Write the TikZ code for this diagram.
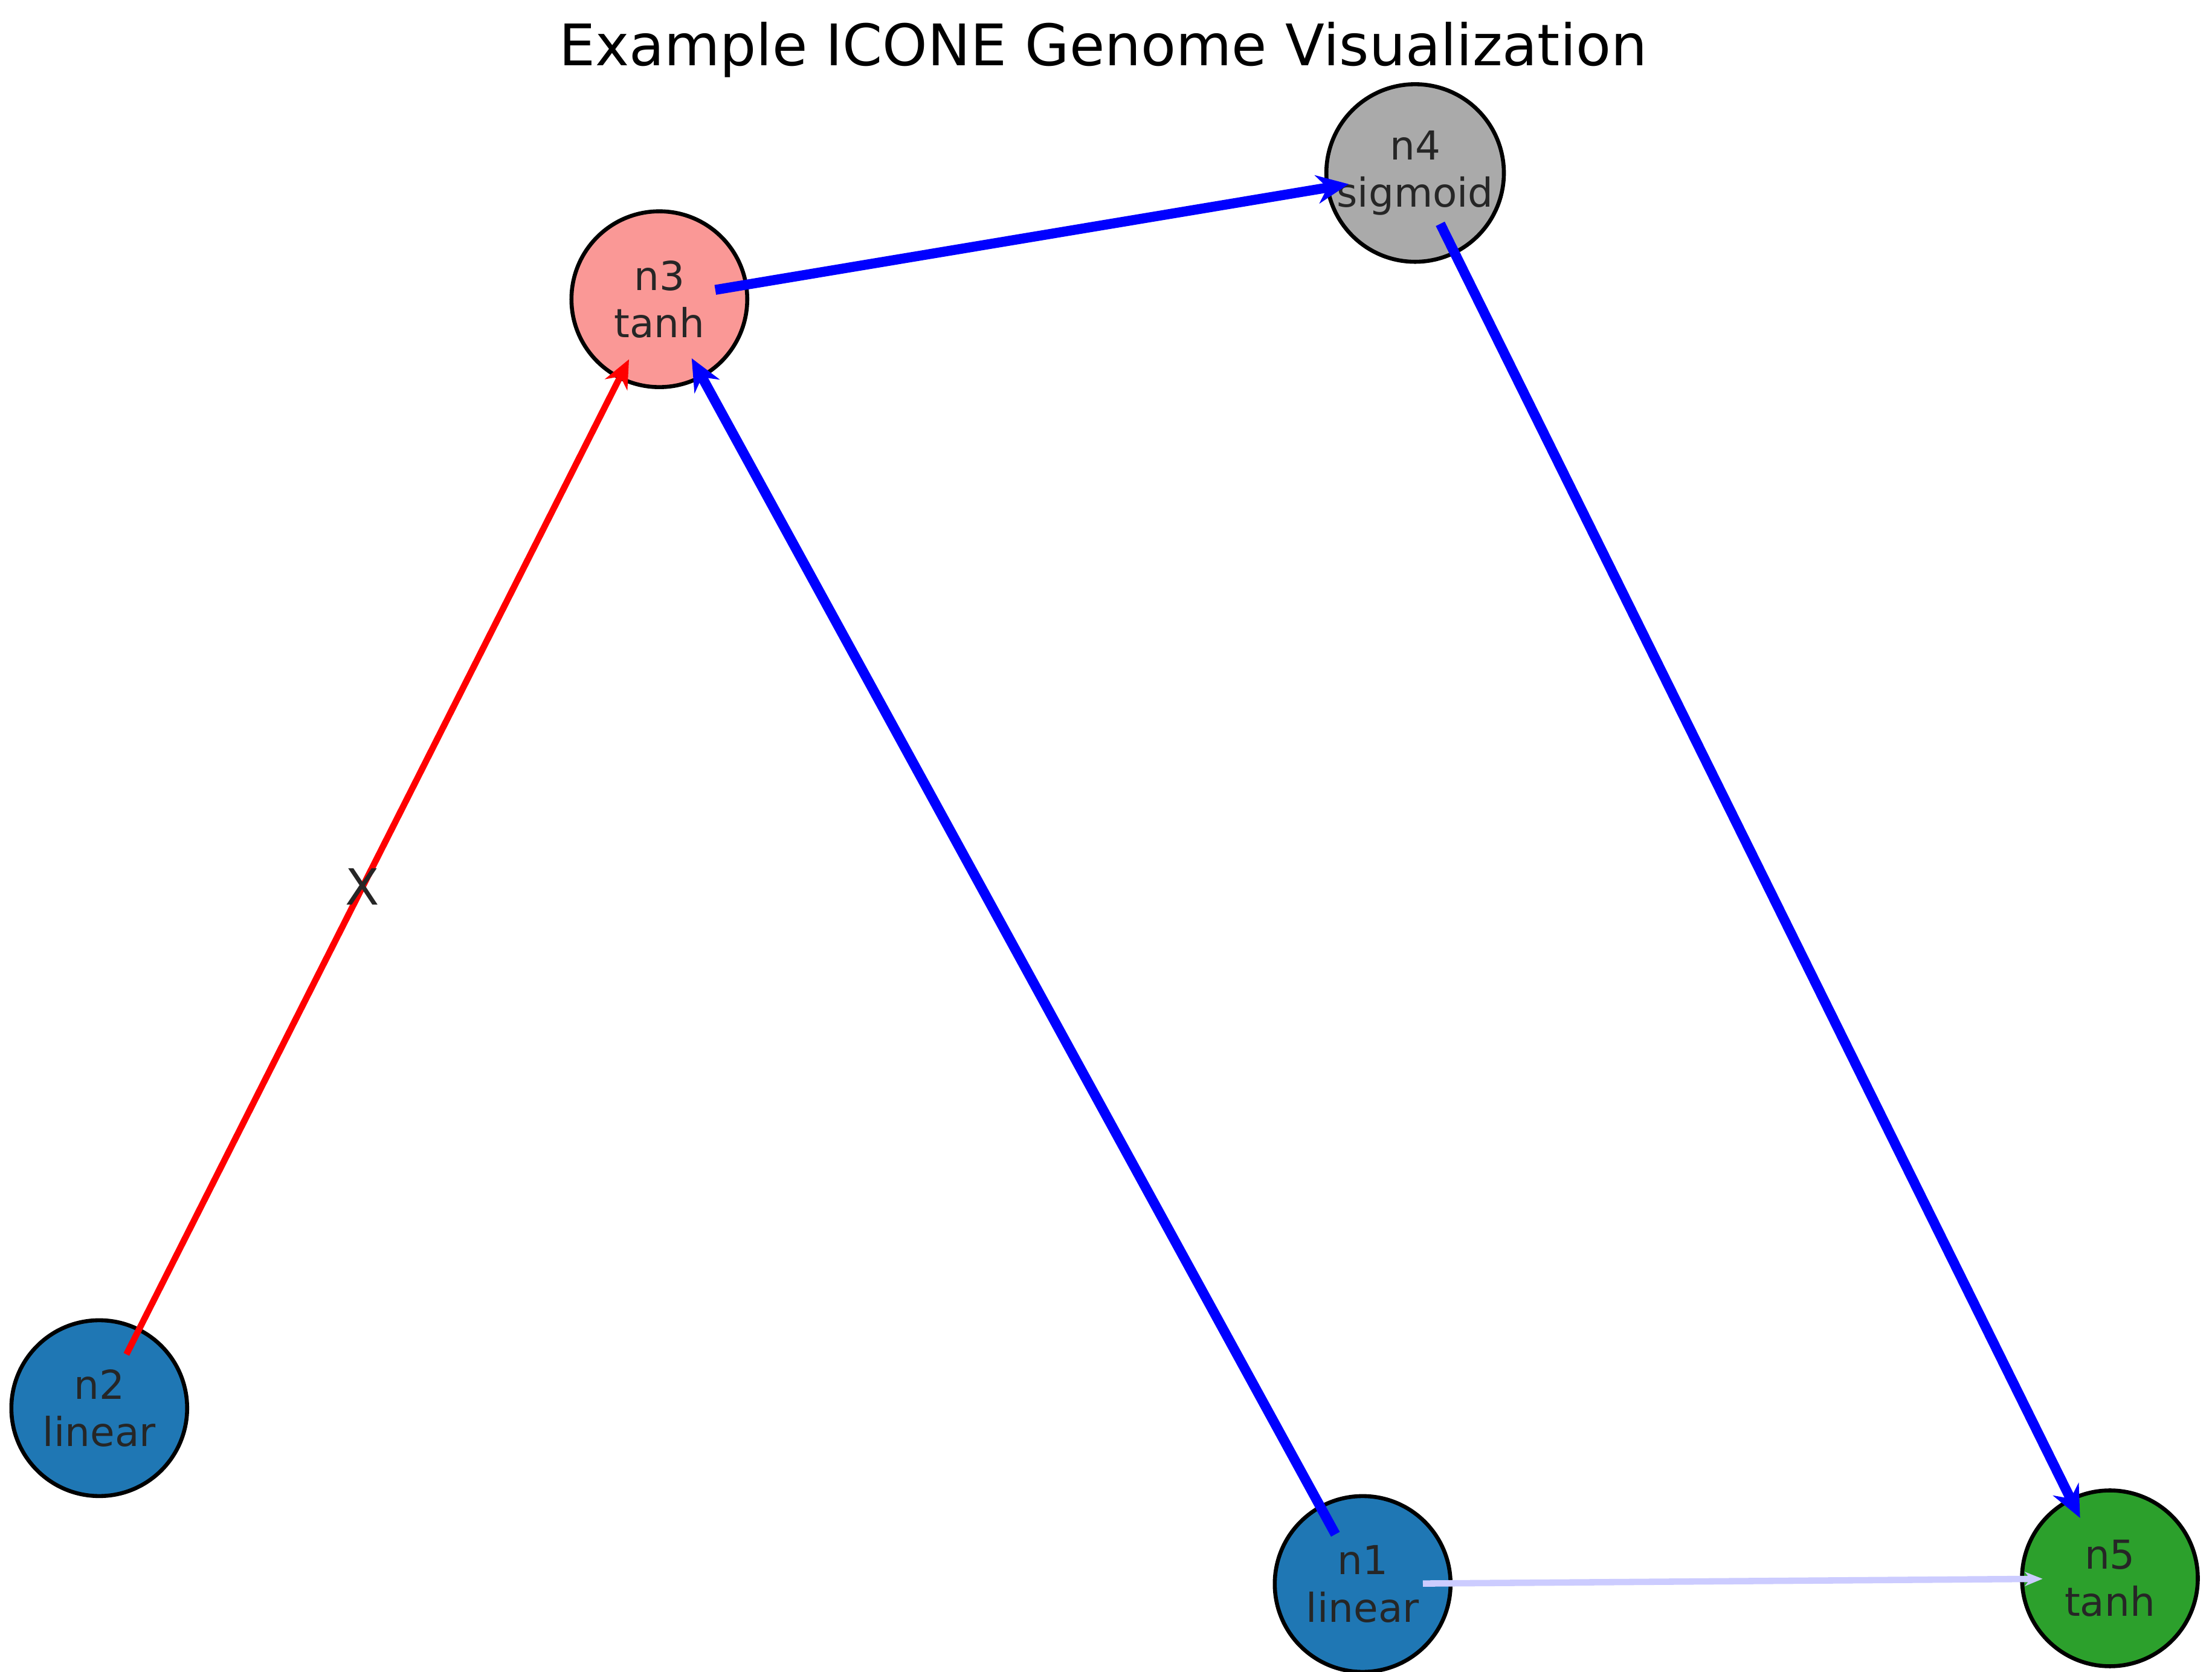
\documentclass[tikz,border=0pt]{standalone}
\usepackage{fontspec}
\setmainfont{DejaVu Sans}
\usetikzlibrary{arrows.meta}
\begin{document}
\begin{tikzpicture}[x=0.02cm,y=-0.02cm,
  nd/.style={circle,draw=black,line width=1.6pt,minimum size=2.48cm,inner sep=0pt,align=center,font=\fontsize{16}{19}\selectfont,text=black!85},
  ed/.style={line width=0.14cm,blue,shorten <=0.8cm,shorten >=0.95cm,-{Stealth[length=0.45cm,width=0.4cm]}}]
\useasboundingbox (0,0) rectangle (1560,1179);
\clip (0,0) rectangle (1560,1179);
\fill[white] (0,0) rectangle (1560,1179);
\node[font=\fontsize{23}{27}\selectfont] (title) at (778,35) {Example ICONE Genome Visualization};
\node[nd,fill={rgb,255:red,250;green,152;blue,150}] (n3) at (465,211) {n3\\tanh};
\node[nd,fill={rgb,255:red,170;green,170;blue,170}] (n4) at (998,122) {n4\\sigmoid};
\node[nd,fill={rgb,255:red,31;green,119;blue,180}] (n2) at (70,993) {n2\\linear};
\node[nd,fill={rgb,255:red,31;green,119;blue,180}] (n1) at (961,1117) {n1\\linear};
\node[nd,fill={rgb,255:red,44;green,160;blue,44}] (n5) at (1488,1113) {n5\\tanh};
\draw[ed] (n3.center) -- (n4.center);
\draw[ed] (n4.center) -- (n5.center);
\draw[ed] (n1.center) -- (n3.center);
\draw[line width=0.09cm,red,shorten <=0.85cm,shorten >=0.95cm,-{Stealth[length=0.4cm,width=0.35cm]}] (n2.center) -- node[pos=0.47,font=\fontsize{20}{24}\selectfont,text=black!85]{X} (n3.center);
\draw[line width=0.09cm,blue!20,shorten <=0.85cm,shorten >=0.95cm,-{Stealth[length=0.25cm,width=0.2cm]}] (n1.center) -- (n5.center);
\end{tikzpicture}
\end{document}
